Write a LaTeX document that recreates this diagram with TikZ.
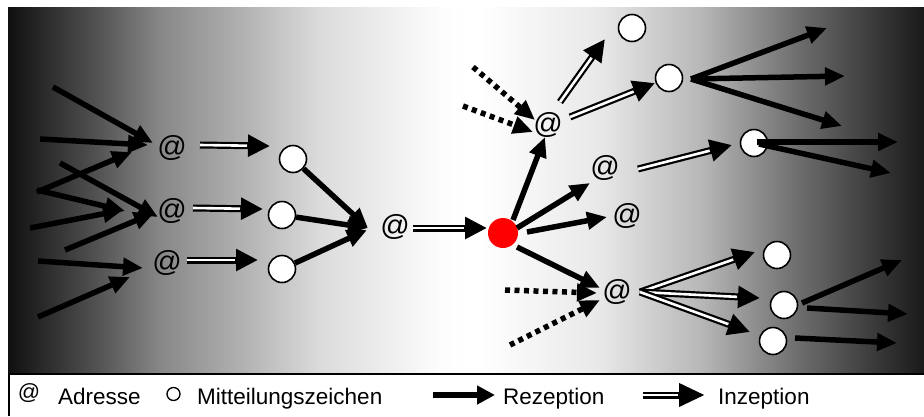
\documentclass[tikz,border=0pt]{standalone}
\usepackage{fontspec}
\setmainfont{Liberation Sans}
\usetikzlibrary{arrows.meta}

% grey ramp of the background panel: dark edges, white centre
\definecolor{s0}{gray}{0.06}
\definecolor{s1}{gray}{0.33}
\definecolor{s2}{gray}{0.53}
\definecolor{s3}{gray}{0.71}
\definecolor{s4}{gray}{0.86}
\definecolor{s5}{gray}{0.99}
\definecolor{s6}{gray}{1.0}
\definecolor{s7}{gray}{0.91}
\definecolor{s8}{gray}{0.72}
\definecolor{s9}{gray}{0.42}
\definecolor{s10}{gray}{0.16}
\definecolor{s11}{gray}{0.10}
\pgfdeclarehorizontalshading{panelshade}{100bp}{%
  color(0bp)=(s0); color(25bp)=(s0); color(30bp)=(s1); color(33.3bp)=(s2);
  color(38.2bp)=(s3); color(42bp)=(s4); color(48.6bp)=(s5); color(50bp)=(s6);
  color(50.8bp)=(s6); color(57.3bp)=(s7); color(62.8bp)=(s8); color(68.3bp)=(s9);
  color(73.7bp)=(s10); color(75bp)=(s11); color(100bp)=(s11)}

\begin{document}
\begin{tikzpicture}[x=1pt,y=-1pt,
  adrnode/.style={font=\fontsize{29}{29}\selectfont, inner sep=0pt},
  mz/.style={circle, draw=black, fill=white, line width=1.6pt, minimum size=27pt, inner sep=0pt},
  sender/.style={circle, fill=red, minimum size=30pt, inner sep=0pt},
  rez/.style={line width=5.5pt, -{Triangle[length=20pt,width=17pt]}},
  % inception: black band with a white core that stops at the arrow head
  inz/.style={line width=7pt, -{Triangle[length=22pt,width=21pt]},
    postaction={draw=white, line width=2.6pt, -, shorten >=23pt}},
  dotrez/.style={rez, dash pattern=on 5pt off 4.5pt},
  legtext/.style={font=\fontsize{22.5}{22.5}\selectfont, anchor=base west, inner sep=0pt}]

\useasboundingbox (0,0) rectangle (924,416);
\fill[white] (0,0) rectangle (924,416);
\shade[shading=panelshade] (8,7) rectangle (924,373);
\draw[line width=2.4pt] (8,374) -- (924,374);
\draw[line width=1.8pt] (8.9,373) -- (8.9,416);

% addresses
\node[adrnode] (a1) at (172,148) {@};
\node[adrnode] (a2) at (172,211) {@};
\node[adrnode] (a3) at (167,263) {@};
\node[adrnode] (a4) at (395,227) {@};
\node[adrnode] (a5) at (548,125) {@};
\node[adrnode] (a6) at (605,168) {@};
\node[adrnode] (a7) at (627,216) {@};
\node[adrnode] (a8) at (617,292) {@};

% message signs
\node[mz] (c1) at (293,159) {};
\node[mz] (c2) at (282,215) {};
\node[mz] (c3) at (282,269) {};
\node[mz] (c4) at (632,28) {};
\node[mz] (c5) at (669,78) {};
\node[mz] (c6) at (754,143) {};
\node[mz] (c7) at (777,255) {};
\node[mz] (c8) at (784,305) {};
\node[mz] (c9) at (773,341) {};
\node[sender] (red) at (503,233) {};

% loose ends
\coordinate (l1) at (53,87);
\coordinate (l2) at (40,139);
\coordinate (l3) at (37,192);
\coordinate (l4) at (60,163);
\coordinate (l5) at (37,190);
\coordinate (l6) at (30,228);
\coordinate (l7) at (65,250);
\coordinate (l8) at (38,261);
\coordinate (l9) at (38,317);
\coordinate (d1) at (473,67);
\coordinate (d2) at (463,106);
\coordinate (d3) at (505,290);
\coordinate (d4) at (510,345);
\coordinate (o1) at (827,28);
\coordinate (o2) at (845,76);
\coordinate (o3) at (842,126);
\coordinate (o4) at (898,142);
\coordinate (o5) at (891,173);
\coordinate (o6) at (902,260);
\coordinate (o7) at (908,314);
\coordinate (o8) at (897,343);

% receptions on the left
\draw[rez] (l1) -- ([shift={(-19,-5)}]a1.center);
\draw[rez] (l2) -- ([shift={(-24,-3)}]a1.center);
\draw[rez] (l3) -- ([shift={(-40,4)}]a1.center);
\draw[rez] (l4) -- ([shift={(-14,6)}]a2.center);
\draw[rez] (l5) -- ([shift={(-47,0)}]a2.center);
\draw[rez] (l6) -- ([shift={(-49,-1)}]a2.center);
\draw[rez] (l7) -- ([shift={(-18,2)}]a2.center);
\draw[rez] (l8) -- ([shift={(-24,5)}]a3.center);
\draw[rez] (l9) -- ([shift={(-37,14)}]a3.center);

% inceptions into message signs
\draw[inz] ([shift={(28,-3)}]a1.center) -- ([shift={(-23,-13)}]c1.center);
\draw[inz] ([shift={(21,-3)}]a2.center) -- ([shift={(-19,-6)}]c2.center);
\draw[inz] ([shift={(20,-3)}]a3.center) -- ([shift={(-24,-9)}]c3.center);

\draw[rez] (c1) -- ([shift={(-27,1)}]a4.center);
\draw[rez] (c2) -- ([shift={(-27,1)}]a4.center);
\draw[rez] (c3) -- ([shift={(-28,3)}]a4.center);

\draw[inz] ([shift={(18,1)}]a4.center) -- ([shift={(-16,-5)}]red.center);

% from the red sender
\draw[rez] ([shift={(10,-13)}]red.center) -- ([shift={(-3,12)}]a5.center);
\draw[rez] ([shift={(14,-5)}]red.center) -- ([shift={(-15,15)}]a6.center);
\draw[rez] ([shift={(24,-1)}]red.center) -- ([shift={(-20,1)}]a7.center);
\draw[rez] ([shift={(14,14)}]red.center) -- ([shift={(-17,-4)}]a8.center);

% other receptions (dotted)
\draw[dotrez] (d1) -- ([shift={(-13,-5)}]a5.center);
\draw[dotrez] (d2) -- ([shift={(-15,7)}]a5.center);
\draw[dotrez] (d3) -- ([shift={(-20,1)}]a8.center);
\draw[dotrez] (d4) -- ([shift={(-17,8)}]a8.center);

% inceptions on the right
\draw[inz] ([shift={(12,-23)}]a5.center) -- ([shift={(-27,11)}]c4.center);
\draw[inz] ([shift={(22,-8)}]a5.center) -- ([shift={(-14,5)}]c5.center);
\draw[inz] ([shift={(33,1)}]a6.center) -- ([shift={(-22,2)}]c6.center);
\draw[inz] ([shift={(23,0)}]a8.center) -- ([shift={(-22,-3)}]c7.center);
\draw[inz] ([shift={(23,0)}]a8.center) -- ([shift={(-24,-7)}]c8.center);
\draw[inz] ([shift={(23,0)}]a8.center) -- ([shift={(-23,-9)}]c9.center);

% onward receptions
\draw[rez] ([shift={(22,1)}]c5.center) -- (o1);
\draw[rez] ([shift={(22,1)}]c5.center) -- (o2);
\draw[rez] ([shift={(22,1)}]c5.center) -- (o3);
\draw[rez] ([shift={(3,-1)}]c6.center) -- (o4);
\draw[rez] ([shift={(5,1)}]c6.center) -- (o5);
\draw[rez] ([shift={(18,-2)}]c8.center) -- (o6);
\draw[rez] ([shift={(23,3)}]c8.center) -- (o7);
\draw[rez] ([shift={(22,-3)}]c9.center) -- (o8);

% legend
\node[font=\fontsize{22}{22}\selectfont, inner sep=0pt] (lgat) at (29,393) {@};
\node[legtext] (lgadr) at (58,404) {Adresse};
\node[circle, draw=black, line width=1.3pt, minimum size=13pt, inner sep=0pt] (lgc) at (173.5,394) {};
\node[legtext] (lgmz) at (197,404) {Mitteilungszeichen};
\coordinate (lgr1) at (433,395);
\coordinate (lgr2) at (495,395);
\draw[line width=5.5pt, -{Triangle[length=18pt,width=18pt]}] (lgr1) -- (lgr2);
\node[legtext] (lgrez) at (503,404) {Rezeption};
\coordinate (lgi1) at (643,395);
\coordinate (lgi2) at (705,395);
\draw[line width=7pt, -{Triangle[length=26pt,width=22pt]},
  postaction={draw=white, line width=2.6pt, -, shorten >=27pt}] (lgi1) -- (lgi2);
\node[legtext] (lginz) at (718,404) {Inzeption};
\end{tikzpicture}
\end{document}
